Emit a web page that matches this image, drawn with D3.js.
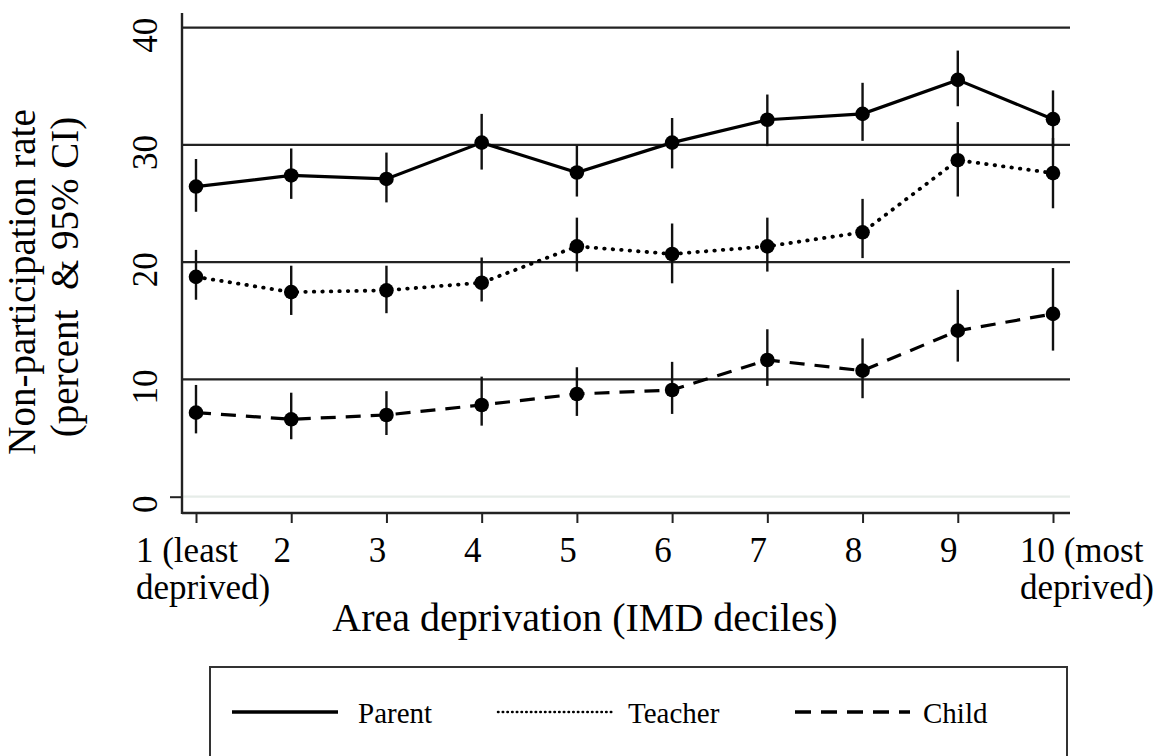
<!DOCTYPE html>
<html>
<head>
<meta charset="utf-8">
<script src="https://cdn.jsdelivr.net/npm/d3@7"></script>
<style>
  html, body { margin: 0; padding: 0; background: #fff; }
  svg { display: block; }
  text { font-family: "Liberation Serif", "DejaVu Serif", serif; fill: #000; }
</style>
</head>
<body>
<svg id="chart" width="1159" height="756"></svg>
<script>
// ---- data ----
const deciles = [1, 2, 3, 4, 5, 6, 7, 8, 9, 10];
const xTickLabels = [["1 (least", "deprived)"], ["2"], ["3"], ["4"], ["5"], ["6"], ["7"], ["8"], ["9"], ["10 (most", "deprived)"]];
const yTicks = [0, 10, 20, 30, 40];

const parentRate = [26.45, 27.4, 27.1, 30.2, 27.65, 30.2, 32.15, 32.65, 35.55, 32.2];
const parentLow  = [24.3, 25.4, 25.1, 27.9, 25.6, 28.0, 29.9, 30.35, 33.3, 29.8];
const parentHigh = [28.8, 29.7, 29.35, 32.65, 29.95, 32.3, 34.3, 35.3, 38.05, 34.65];

const teacherRate = [18.75, 17.45, 17.6, 18.25, 21.35, 20.7, 21.35, 22.55, 28.7, 27.6];
const teacherLow  = [16.8, 15.5, 15.65, 16.65, 19.2, 18.2, 19.2, 20.35, 25.6, 24.6];
const teacherHigh = [21.05, 19.7, 19.7, 20.4, 23.8, 23.3, 23.8, 25.4, 31.95, 30.6];

const childRate = [7.17, 6.6, 6.97, 7.82, 8.76, 9.1, 11.66, 10.75, 14.16, 15.59];
const childLow  = [5.4, 4.9, 5.26, 6.06, 6.89, 7.06, 9.45, 8.4, 11.52, 12.46];
const childHigh = [9.53, 8.87, 9.0, 10.24, 11.04, 11.5, 14.28, 13.5, 17.64, 19.5];

const seriesNames = ["Parent", "Teacher", "Child"];

// ---- build ----
const series = [
  { name: seriesNames[0], rate: parentRate, low: parentLow, high: parentHigh, dash: null, width: 3.2, legendDash: null, cap: "butt" },
  { name: seriesNames[1], rate: teacherRate, low: teacherLow, high: teacherHigh, dash: "0.5 8", width: 3.8, legendDash: "0.5 4.2", cap: "round" },
  { name: seriesNames[2], rate: childRate, low: childLow, high: childHigh, dash: "15 10", width: 3.2, legendDash: "16 10", cap: "butt" }
];

const svg = d3.select("#chart");
const x = d3.scaleLinear().domain([1, 10]).range([196, 1053]);
const y = d3.scaleLinear().domain([0, 40]).range([496.7, 27.7]);
const plotLeft = 182, plotRight = 1070, axisY = 513, axisTop = 13;

// gridlines
svg.append("g").selectAll("line").data(yTicks).join("line")
  .attr("x1", plotLeft).attr("x2", plotRight)
  .attr("y1", d => y(d)).attr("y2", d => y(d))
  .attr("stroke", d => d === 0 ? "#e6ece8" : "#222")
  .attr("stroke-width", 2.2);

// y axis
const yAxis = d3.axisLeft(y).tickValues(yTicks).tickSize(0).tickFormat(d3.format("d"));
const gy = svg.append("g").attr("transform", `translate(${plotLeft},0)`).call(yAxis);
gy.select(".domain").remove();
gy.selectAll(".tick text")
  .attr("x", 0).attr("dy", 0)
  .attr("text-anchor", "middle")
  .style("font-size", "35px")
  .attr("transform", "translate(-25,7) rotate(-90)");
gy.selectAll(".tick").filter(d => d === 0).append("line")
  .attr("x1", -12).attr("x2", 0).attr("stroke", "#222").attr("stroke-width", 2);
svg.append("line").attr("x1", plotLeft).attr("x2", plotLeft).attr("y1", axisTop).attr("y2", axisY + 1)
  .attr("stroke", "#222").attr("stroke-width", 2.4);

// x axis
const xAxis = d3.axisBottom(x).tickValues(deciles).tickSize(10).tickFormat("");
const gx = svg.append("g").attr("transform", `translate(0,${axisY})`).call(xAxis);
gx.select(".domain").attr("d", `M${plotLeft},0H${plotRight}`).attr("stroke", "#222").attr("stroke-width", 2.4);
gx.selectAll(".tick line").attr("stroke", "#222").attr("stroke-width", 2);

// x tick labels
const xl = svg.append("g").style("font-size", "35px");
deciles.forEach((d, i) => {
  const lines = xTickLabels[i];
  const t = xl.append("text");
  lines.forEach((ln, j) => t.append("tspan").text(ln).attr("y", 562 + j * 37));
  if (lines.length === 1) {
    t.attr("text-anchor", "middle").selectAll("tspan").attr("x", x(d) - 9);
  } else {
    const spans = t.selectAll("tspan").nodes();
    const w1 = spans[0].getComputedTextLength();
    const wmax = d3.max(spans, s => s.getComputedTextLength());
    const start = i === deciles.length - 1 ? 1154 - wmax : x(d) - 9 - w1 / 2;
    t.attr("text-anchor", "start").selectAll("tspan").attr("x", start);
  }
});

// axis titles
svg.append("text").attr("x", 585).attr("y", 631).attr("text-anchor", "middle")
  .style("font-size", "40px").text("Area deprivation (IMD deciles)");
svg.append("text").attr("transform", "translate(35,282) rotate(-90)").attr("text-anchor", "middle")
  .style("font-size", "39px").text("Non-participation rate");
svg.append("text").attr("transform", "translate(78,277) rotate(-90)").attr("text-anchor", "middle")
  .style("font-size", "39px").style("white-space", "pre").text("(percent  & 95% CI)");

// series
const line = d3.line().x((d, i) => x(deciles[i])).y(d => y(d));
series.forEach(s => {
  const g = svg.append("g");
  g.selectAll("line.ci").data(deciles).join("line").attr("class", "ci")
    .attr("x1", d => x(d)).attr("x2", d => x(d))
    .attr("y1", (d, i) => y(s.low[i])).attr("y2", (d, i) => y(s.high[i]))
    .attr("stroke", "#111").attr("stroke-width", 2.4);
  g.append("path").datum(s.rate).attr("d", line)
    .attr("fill", "none").attr("stroke", "#000").attr("stroke-width", s.width)
    .attr("stroke-dasharray", s.dash).attr("stroke-linecap", s.cap);
  g.selectAll("circle").data(deciles).join("circle")
    .attr("cx", d => x(d)).attr("cy", (d, i) => y(s.rate[i])).attr("r", 7.3)
    .attr("fill", "#000");
});

// legend
const lg = svg.append("g");
lg.append("rect").attr("x", 210).attr("y", 667).attr("width", 857).attr("height", 110)
  .attr("fill", "#fff").attr("stroke", "#333").attr("stroke-width", 2);
const legendPos = [{ x1: 232, x2: 338, tx: 358 }, { x1: 498, x2: 612, tx: 628 }, { x1: 795, x2: 910, tx: 923 }];
series.forEach((s, i) => {
  const p = legendPos[i];
  lg.append("line").attr("x1", p.x1).attr("x2", p.x2).attr("y1", 712).attr("y2", 712)
    .attr("stroke", "#000").attr("stroke-width", i === 1 ? 2.5 : 3.4)
    .attr("stroke-dasharray", s.legendDash).attr("stroke-linecap", s.cap);
  lg.append("text").attr("x", p.tx).attr("y", 723).style("font-size", "29px").text(s.name);
});
</script>
</body>
</html>
